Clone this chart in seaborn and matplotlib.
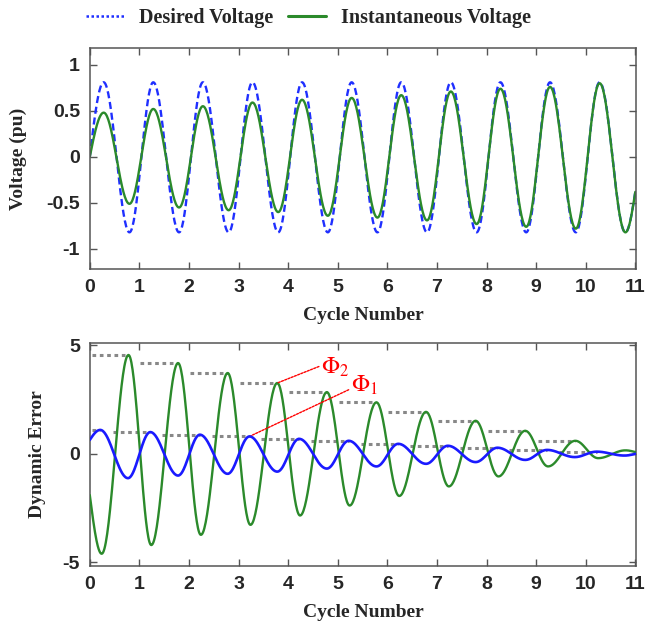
import numpy as np
import matplotlib
matplotlib.use("Agg")
import matplotlib.pyplot as plt
import seaborn as sns
from matplotlib.lines import Line2D
from matplotlib.font_manager import FontProperties

# ------------------------------------------------------------------
# Data
# ------------------------------------------------------------------
cycle_ticks = [0, 1, 2, 3, 4, 5, 6, 7, 8, 9, 10, 11]
top_yticks = [-1, -0.5, 0, 0.5, 1]
top_yticklabels = ["-1", "-0.5", "0", "0.5", "1"]
bot_yticks = [-5, 0, 5]
bot_yticklabels = ["-5", "0", "5"]

# Top panel: times (cycle number) of the positive and negative extremes
top_peak_t = [0.28, 1.28, 2.28, 3.28, 4.28, 5.28, 6.28, 7.28, 8.28, 9.28, 10.28]
top_trough_t = [0.80, 1.80, 2.80, 3.80, 4.80, 5.80, 6.80, 7.80, 8.80, 9.80, 10.80]
desired_peak = [0.81, 0.81, 0.81, 0.81, 0.81, 0.81, 0.81, 0.81, 0.81, 0.81, 0.81]
desired_trough = [-0.82, -0.82, -0.82, -0.82, -0.82, -0.82, -0.82, -0.82, -0.82, -0.82, -0.82]
inst_peak = [0.48, 0.52, 0.55, 0.59, 0.62, 0.64, 0.67, 0.71, 0.74, 0.76, 0.80]
inst_trough = [-0.51, -0.55, -0.58, -0.60, -0.64, -0.66, -0.69, -0.73, -0.76, -0.78, -0.82]
top_start = [0.0, 0.0]          # desired, instantaneous at cycle 0
top_end = [-0.38, -0.38]        # desired, instantaneous at cycle 11

# Bottom panel: dynamic error (green = large, blue = small)
err_g_trough_t = [0.24, 1.24, 2.24, 3.24, 4.24, 5.24, 6.24, 7.24, 8.24, 9.24, 10.25]
err_g_trough = [-4.60, -4.20, -3.73, -3.27, -2.84, -2.38, -1.94, -1.50, -1.04, -0.58, -0.20]
err_g_peak_t = [0.78, 1.78, 2.78, 3.78, 4.78, 5.78, 6.78, 7.78, 8.78, 9.79, 10.80]
err_g_peak = [4.55, 4.18, 3.72, 3.26, 2.84, 2.37, 1.93, 1.52, 1.06, 0.60, 0.16]
err_g_start, err_g_end = -1.90, 0.08

err_b_peak_t = [0.21, 1.22, 2.22, 3.22, 4.22, 5.22, 6.22, 7.22, 8.22, 9.22, 10.22]
err_b_peak = [1.10, 1.00, 0.88, 0.80, 0.69, 0.60, 0.46, 0.37, 0.28, 0.18, 0.10]
err_b_trough_t = [0.77, 1.78, 2.78, 3.78, 4.78, 5.78, 6.78, 7.78, 8.78, 9.78, 10.78]
err_b_trough = [-1.12, -1.00, -0.92, -0.82, -0.68, -0.58, -0.46, -0.38, -0.28, -0.15, -0.08]
err_b_start, err_b_end = 0.64, 0.0

# guide lines: green peaks 0..9, blue peaks 0..10
n_green_guides = 10
n_blue_guides = 11
guide_len = 0.76

# ------------------------------------------------------------------
def build_wave(t_a, v_a, t_b, v_b, v_start, v_end, t_end=11.0, n=40):
    """Smooth waveform through the read extremes (half-cosine between them)."""
    pairs = sorted(list(zip(t_a, v_a)) + list(zip(t_b, v_b)))
    et = [p[0] for p in pairs]
    ev = [p[1] for p in pairs]
    s = np.linspace(0, 1, n)[1:]
    ts, vs = [0.0], [v_start]
    ts += list(et[0] * s)
    vs += list(v_start + (ev[0] - v_start) * np.sin(np.pi / 2 * s))
    for i in range(len(et) - 1):
        ta, tb, va, vb = et[i], et[i + 1], ev[i], ev[i + 1]
        ts += list(ta + (tb - ta) * s)
        vs += list(va + (vb - va) * (1 - np.cos(np.pi * s)) / 2)
    ta, va = et[-1], ev[-1]
    ts += list(ta + (t_end - ta) * s)
    vs += list(va + (v_end - va) * (1 - np.cos(np.pi / 2 * s)))
    return np.array(ts), np.array(vs)


sns.set_style("ticks")
plt.rcParams["font.family"] = ["Liberation Sans", "DejaVu Sans"]
plt.rcParams["mathtext.fontset"] = "stix"
plt.rcParams["axes.unicode_minus"] = False

BLUE_T = "#1f2fff"
GREEN = "#2b8a2b"
BLUE_B = "#1a1aff"
SPINE = "#555555"
tick_font = FontProperties(family="Liberation Sans", weight="bold", size=14)
lab_font = FontProperties(family="Liberation Serif", weight="bold", size=14)

fig = plt.figure(figsize=(6.46, 6.26), dpi=100)
ax1 = fig.add_axes([0.139, 0.570, 0.846, 0.353])
ax2 = fig.add_axes([0.139, 0.096, 0.846, 0.356])

# ---- top panel ----
t_d, v_d = build_wave(top_peak_t, desired_peak, top_trough_t, desired_trough,
                      top_start[0], top_end[0])
t_i, v_i = build_wave(top_peak_t, inst_peak, top_trough_t, inst_trough,
                      top_start[1], top_end[1])
sns.lineplot(x=t_d, y=v_d, ax=ax1, color=BLUE_T, lw=1.7, sort=False,
             estimator=None, dashes=False, linestyle=(0, (3, 1.6)))
sns.lineplot(x=t_i, y=v_i, ax=ax1, color=GREEN, lw=1.7, sort=False, estimator=None)
ax1.set_ylim(-1.22, 1.18)
ax1.set_yticks(top_yticks)
ax1.set_yticklabels(top_yticklabels)

# ---- bottom panel ----
g_start = [max(t - guide_len, 0.04) for t in err_g_peak_t[:n_green_guides]]
ax2.hlines(err_g_peak[:n_green_guides], g_start, err_g_peak_t[:n_green_guides],
           colors="#888888", linestyles=(0, (1.2, 1.2)), lw=2.2, zorder=1)
b_start = [max(t - guide_len, 0.04) for t in err_b_peak_t[:n_blue_guides]]
ax2.hlines(err_b_peak[:n_blue_guides], b_start, err_b_peak_t[:n_blue_guides],
           colors="#888888", linestyles=(0, (1.2, 1.2)), lw=2.2, zorder=1)

t_g, v_g = build_wave(err_g_trough_t, err_g_trough, err_g_peak_t, err_g_peak,
                      err_g_start, err_g_end)
t_b, v_b = build_wave(err_b_peak_t, err_b_peak, err_b_trough_t, err_b_trough,
                      err_b_start, err_b_end)
sns.lineplot(x=t_g, y=v_g, ax=ax2, color=GREEN, lw=1.7, sort=False, estimator=None, zorder=3)
sns.lineplot(x=t_b, y=v_b, ax=ax2, color=BLUE_B, lw=1.9, sort=False, estimator=None, zorder=4)
ax2.set_ylim(-5.16, 5.1)
ax2.set_yticks(bot_yticks)
ax2.set_yticklabels(bot_yticklabels)

# annotations Phi2 (green peak #3) and Phi1 (blue peak #3)
ax2.annotate("", xy=(err_g_peak_t[3], err_g_peak[3]), xytext=(4.62, 4.02),
             arrowprops=dict(arrowstyle="-", color="red", lw=1.0, ls=(0, (1.5, 1)),
                             shrinkA=0, shrinkB=0))
ax2.text(4.66, 3.98, r"$\Phi_2$", color="red", fontsize=17, ha="left", va="center")
ax2.annotate("", xy=(err_b_peak_t[3], err_b_peak[3]), xytext=(5.22, 2.95),
             arrowprops=dict(arrowstyle="-", color="red", lw=1.0, ls=(0, (1.5, 1)),
                             shrinkA=0, shrinkB=0))
ax2.text(5.27, 3.15, r"$\Phi_1$", color="red", fontsize=17, ha="left", va="center")

# ---- common styling ----
for ax in (ax1, ax2):
    ax.set_xlim(0, 11.02)
    ax.set_xticks(cycle_ticks)
    ax.set_xticklabels([str(c) for c in cycle_ticks])
    ax.tick_params(direction="in", top=True, right=True, length=5, width=1,
                   color=SPINE, pad=7)
    for lab in ax.get_xticklabels() + ax.get_yticklabels():
        lab.set_fontproperties(tick_font)
    for sp in ax.spines.values():
        sp.set_visible(True)
        sp.set_color(SPINE)
        sp.set_linewidth(1.1)
    ax.set_xlabel("Cycle Number", fontproperties=lab_font, labelpad=8)

ax1.set_ylabel("Voltage (pu)", fontproperties=lab_font)
ax2.set_ylabel("Dynamic Error", fontproperties=lab_font)
ax1.yaxis.set_label_coords(-0.115, 0.5)
ax2.yaxis.set_label_coords(-0.08, 0.5)

handles = [Line2D([], [], color=BLUE_T, lw=1.8, ls=(0, (1, 1))),
           Line2D([], [], color=GREEN, lw=2.2)]
fig.legend(handles, ["Desired Voltage", "Instantaneous Voltage"],
           loc="center left", bbox_to_anchor=(86 / 646, 1 - 18 / 626),
           ncol=2, frameon=False, prop=FontProperties(family="Liberation Serif",
                                                      weight="bold", size=14.5),
           handlelength=1.9, handletextpad=0.75, columnspacing=0.7,
           borderpad=0, borderaxespad=0)

fig.savefig("out.png", dpi=100)
